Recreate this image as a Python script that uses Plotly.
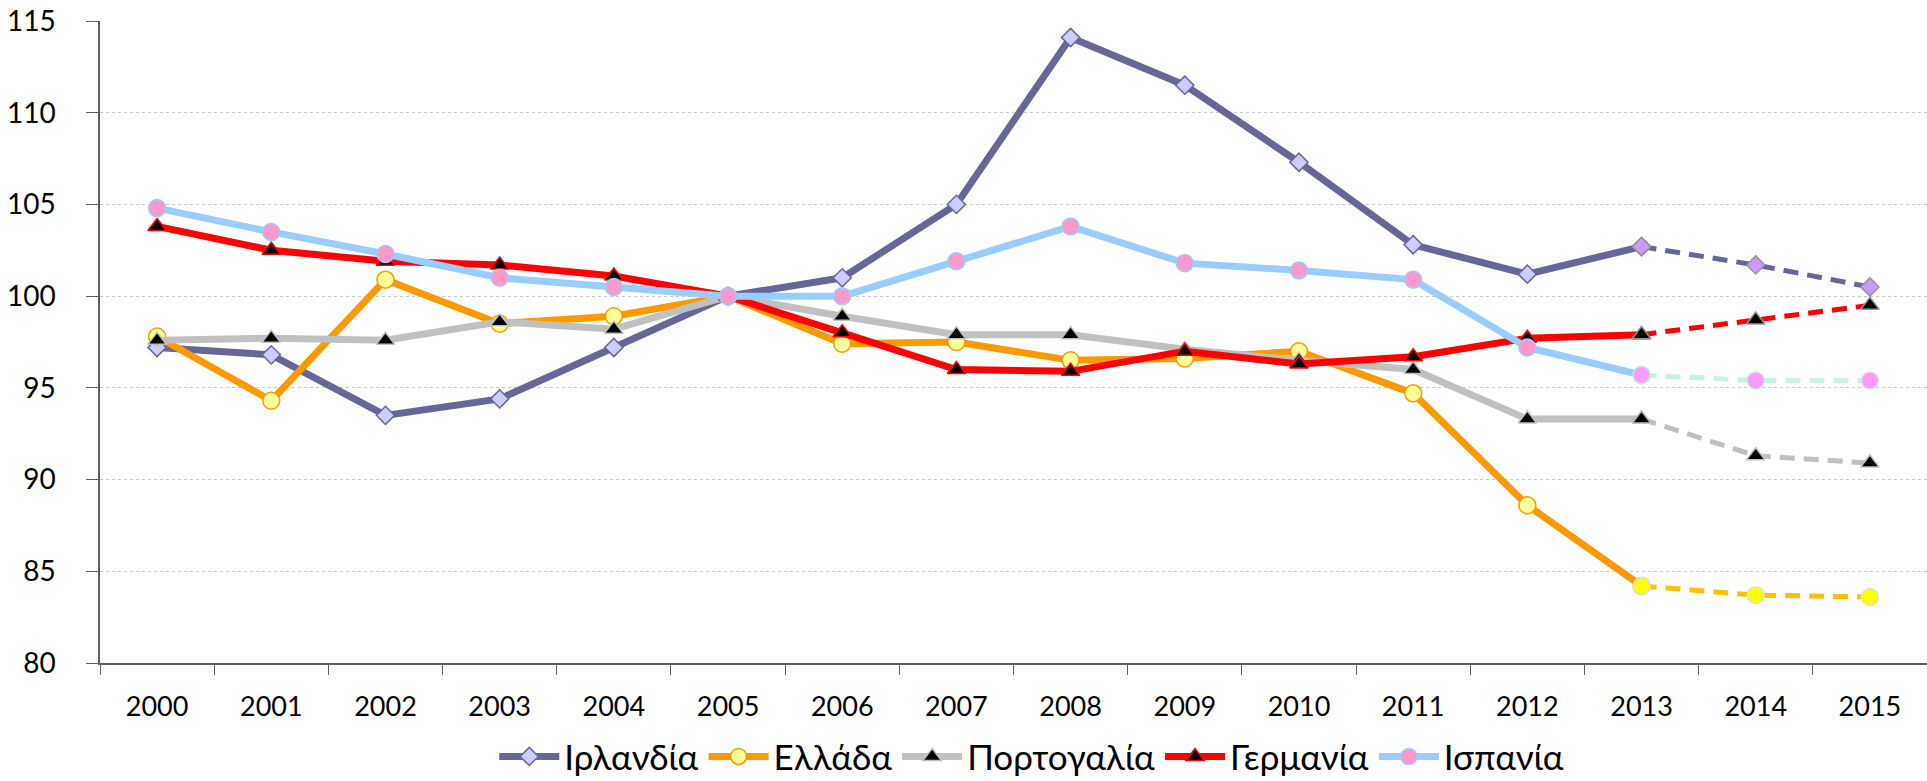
import plotly.graph_objects as go

# years and values (index, 2005 = 100)
years = [str(y) for y in range(2000, 2016)]
years_hist = years[:14]
years_proj = years[13:]

ireland = [97.2, 96.8, 93.5, 94.4, 97.2, 100.0, 101.0, 105.0, 114.1, 111.5, 107.3, 102.8, 101.2, 102.7]
greece = [97.8, 94.3, 100.9, 98.5, 98.9, 100.0, 97.4, 97.5, 96.5, 96.6, 97.0, 94.7, 88.6, 84.2]
portugal = [97.6, 97.7, 97.6, 98.6, 98.2, 100.0, 98.9, 97.9, 97.9, 97.1, 96.5, 96.0, 93.3, 93.3]
germany = [103.8, 102.5, 101.9, 101.7, 101.1, 100.0, 98.0, 96.0, 95.9, 97.0, 96.3, 96.7, 97.7, 97.9]
spain = [104.8, 103.5, 102.3, 101.0, 100.5, 100.0, 100.0, 101.9, 103.8, 101.8, 101.4, 100.9, 97.2, 95.7]

# forecasts 2013-2015 (dashed part)
ireland_proj = [102.7, 101.7, 100.5]
greece_proj = [84.2, 83.7, 83.6]
portugal_proj = [93.3, 91.3, 90.9]
germany_proj = [97.9, 98.7, 99.5]
spain_proj = [95.7, 95.4, 95.4]

names = ['Ιρλανδία', 'Ελλάδα', 'Πορτογαλία', 'Γερμανία', 'Ισπανία']

hist = [ireland, greece, portugal, germany, spain]
proj = [ireland_proj, greece_proj, portugal_proj, germany_proj, spain_proj]

line_colors = ['#666699', '#FF9900', '#C0C0C0', '#FF0000', '#99CCFF']
marker_symbols = ['diamond', 'circle', 'triangle-up', 'triangle-up', 'circle']
marker_fills = ['#CCCCFF', '#FFFF99', '#000000', '#000000', '#FF99CC']
marker_lines = ['#666699', '#FF9900', '#C0C0C0', '#FF0000', '#99CCFF']
marker_sizes = [14, 17, 16, 16, 17]

proj_line_colors = ['#666699', '#FFC000', '#C0C0C0', '#FF0000', '#C6F2E2']
proj_fills = ['#CC99FF', '#FFFF00', '#000000', '#000000', '#FF99FF']
proj_outlines = ['#969696', '#E0E0E0', '#BFBFBF', '#969696', '#D0E8DC']

fig = go.Figure()

for i, name in enumerate(names):
    fig.add_trace(go.Scatter(x=years_hist,
                             y=hist[i],
                             name=name,
                             mode='lines+markers',
                             line=dict(color=line_colors[i], width=7),
                             marker=dict(symbol=marker_symbols[i],
                                         size=marker_sizes[i],
                                         color=marker_fills[i],
                                         line=dict(color=marker_lines[i], width=1.5)
                                         )))

for i, name in enumerate(names):
    fig.add_trace(go.Scatter(x=years_proj,
                             y=proj[i],
                             name=name,
                             showlegend=False,
                             mode='lines+markers',
                             line=dict(color=proj_line_colors[i], width=5, dash='15px,9px'),
                             marker=dict(symbol=marker_symbols[i],
                                         size=marker_sizes[i],
                                         color=proj_fills[i],
                                         line=dict(color=proj_outlines[i], width=1.5)
                                         )))

fig.update_layout(
    width=1927,
    height=781,
    margin=dict(l=100, r=0, t=21, b=118, autoexpand=False),
    paper_bgcolor='white',
    plot_bgcolor='white',
    font=dict(family='Lato, Open Sans, sans-serif', color='black'),
    showlegend=True,
    legend=dict(orientation='h',
                x=0.51, xanchor='center',
                y=-0.1, yanchor='top',
                font=dict(size=35),
                itemwidth=60,
                tracegroupgap=0),
    xaxis=dict(type='category',
               categoryorder='array',
               categoryarray=years,
               range=[-0.5, 15.5],
               automargin=False,
               showgrid=False,
               showline=True,
               linecolor='#606060',
               linewidth=1.5,
               ticks='outside',
               tickson='boundaries',
               ticklen=10,
               tickcolor='#606060',
               ticklabelstandoff=19,
               tickfont=dict(size=27)),
    yaxis=dict(range=[80, 115],
               dtick=5,
               automargin=False,
               showgrid=True,
               gridcolor='#C8C8C8',
               griddash='dot',
               gridwidth=1,
               showline=True,
               linecolor='#606060',
               linewidth=1.5,
               ticks='outside',
               ticklen=12,
               tickcolor='#606060',
               ticklabelstandoff=25,
               zeroline=False,
               tickfont=dict(size=28)),
)

# page body has a default 8px margin; drop it so the figure fills the window
fig.write_html("out.html",
               config={'displayModeBar': False},
               post_script="document.body.style.margin='0';")
